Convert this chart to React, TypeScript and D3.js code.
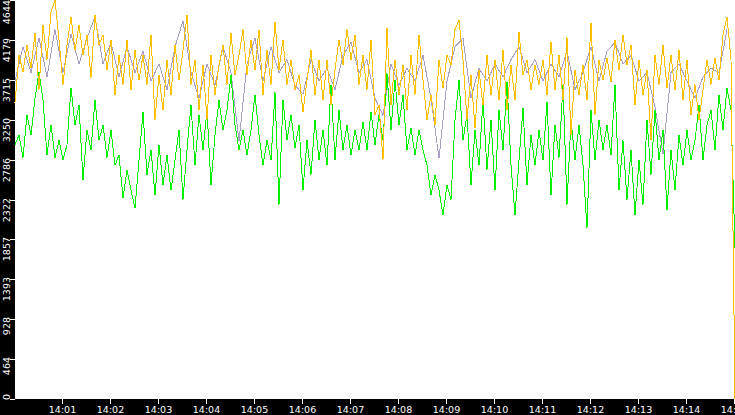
import React, { useEffect, useRef } from 'react';
import * as d3 from 'd3';

// samples every 5 s from 14:00:00
const STEP_SEC = 5;
const yellowValues = [
  3450, 4000, 3810, 4120, 3850, 4260, 3600, 4350, 3950, 4500, 4644, 4180, 3660, 4120, 4450, 4060,
  4350, 4000, 4240, 3740, 4470, 4120, 4240, 3830, 4180, 3540, 4000, 3660, 4180, 3600, 4060, 3710,
  4000, 3660, 4240, 3250, 3770, 3360, 3950, 3540, 4120, 3710, 4060, 4470, 3660, 3950, 3360, 3890,
  3250, 4000, 3540, 3890, 4120, 3660, 4260, 3770, 4000, 4300, 3770, 4180, 3830, 4300,
  3540, 4060, 3660, 4390, 3830, 4180, 3660, 3950, 3600, 3770, 3340, 3710, 4060, 3540, 3950, 3480,
  3950, 3420, 3830, 4180, 3890, 4300, 3950, 4240, 3660, 4000, 3600, 4180, 3310, 3420, 2780, 4320,
  3420, 3950, 3540, 3890, 3360, 4000, 3540, 4240, 3710, 3250, 3540, 3190, 3950, 3620, 4000, 3890,
  4300, 4410, 3950, 3250, 3770, 3150, 3830, 3420, 4000, 3540, 3950, 3480,
  4060, 3360, 3890, 3480, 4270, 3770, 3950, 3600, 3890, 3660, 3950, 3540, 4160, 3600, 4000, 3480,
  4210, 3070, 3830, 3540, 3890, 3480, 4380, 3310, 3950, 3710, 3970, 3690, 4180, 3830, 4240, 3890,
  4120, 3420, 3950, 3540, 3830, 3010, 4000, 3660, 4120, 3620, 4000, 3600, 4060, 3480, 3950, 3310,
  3660, 3250, 3600, 3950, 3660, 3970, 3710, 4240, 4450, 3950, 0,
];
const greenValues = [
  2960, 3070, 2810, 3310, 3070, 3500, 3810, 3480, 2840, 3190, 2810, 3010, 2780, 2960, 3620, 3190,
  3420, 2550, 3130, 2900, 3480, 3010, 3190, 2810, 3130, 2720, 2840, 2340, 2670, 2430, 2220, 2780,
  3340, 2610, 2900, 2370, 2960, 2490, 2840, 2430, 2780, 3130, 2320, 2900, 3420, 2720, 3310, 2900,
  3360, 2490, 3070, 3480, 3130, 3360, 3770, 3190, 2900, 3130, 2840, 3130, 3540, 3070,
  2720, 3010, 2780, 3570, 2260, 3480, 3010, 3310, 2920, 3190, 2430, 3010, 2610, 3250, 2780, 3130,
  2720, 3660, 2780, 3360, 2900, 3190, 2840, 3130, 2900, 3220, 2900, 3340, 2960, 3310, 3010, 3790,
  3130, 3710, 3190, 3540, 2900, 3150, 2840, 3130, 2900, 2720, 2370, 2610, 2430, 2140, 2490, 2320,
  3250, 3710, 3010, 3310, 2490, 3130, 2720, 3480, 2670, 3250, 2430, 3360,
  2900, 3690, 2720, 2140, 2780, 3390, 2490, 3070, 2720, 3130, 2780, 3460, 2370, 3190, 2810, 3660,
  2260, 3250, 2780, 3190, 2720, 1990, 3360, 2780, 3250, 2900, 3190, 2840, 3660, 2430, 3010, 2320,
  2900, 2140, 2780, 2260, 3250, 2610, 3360, 2780, 3130, 2200, 2900, 2430, 3070, 2720, 3130, 2780,
  3010, 3420, 2780, 3190, 3360, 2900, 3540, 3130, 3620, 3360, 1760,
];
// samples every 10 s, mostly hidden behind the other two
const GRAY_STEP_SEC = 10;
const grayValues = [
  3700, 4100, 3800, 4200, 3750, 4300, 3800, 4250, 3900, 4200, 4450, 3900, 4150, 3750, 4100, 3800,
  4050, 3700, 3900, 3600, 4100, 4400, 3800, 3500, 3900, 3650, 4100, 3800, 3000, 3900, 4200, 3700,
  4100, 3800, 3950, 3650, 3550, 3950, 3700, 3850, 3600, 4000, 4150, 3800, 3950, 3500, 3300, 3900,
  3650, 3850, 3700, 4000, 3500, 2800, 3700, 4100, 4200, 3500, 3850, 3700, 3900, 3750, 3950, 4100,
  3800, 3950, 3700, 3900, 3750, 4050, 3600, 3800, 4100, 3700, 4050, 4150, 3900, 4000, 3700, 3800,
  3400, 2850, 3800, 3900, 3700, 3500, 3750, 3850, 3800, 4300,
];
const minuteTicks = d3.range(1, 16);
const Y_MAX = 4644;

const W = 735;
const H = 415;

const App: React.FC = () => {
  const svgRef = useRef<SVGSVGElement>(null);

  useEffect(() => {
    if (!svgRef.current) return;
    const svg = d3.select(svgRef.current);
    svg.selectAll('*').remove();

    const left = 15;
    const bottom = 399;
    const t0 = new Date(2024, 0, 1, 14, 0, 0);
    const t1 = new Date(2024, 0, 1, 14, 15, 0);

    const x = d3.scaleTime().domain([t0, t1]).range([left, W]);
    const y = d3.scaleLinear().domain([0, Y_MAX]).range([bottom, 0]);

    svg.append('rect').attr('width', W).attr('height', H).attr('fill', '#000');
    svg.append('rect')
      .attr('x', left).attr('y', 0)
      .attr('width', W - left).attr('height', bottom)
      .attr('fill', '#fff');

    const toPoints = (vals: number[], step: number) =>
      vals.map((v, i) => ({ t: new Date(t0.getTime() + i * step * 1000), v }));

    const line = d3.line<{ t: Date; v: number }>()
      .x(d => x(d.t))
      .y(d => y(d.v));

    const plot = svg.append('g');
    const series: [number[], number, string][] = [
      [grayValues, GRAY_STEP_SEC, '#aa9fc2'],
      [greenValues, STEP_SEC, '#00f000'],
      [yellowValues, STEP_SEC, '#ffc000'],
    ];
    series.forEach(([vals, step, color]) => {
      plot.append('path')
        .attr('d', line(toPoints(vals, step)))
        .attr('fill', 'none')
        .attr('stroke', color)
        .attr('stroke-width', 1)
        .attr('shape-rendering', 'crispEdges');
    });

    // y axis, vertical labels
    const yTicks = d3.range(0, 11).map(i => (Y_MAX * i) / 10);
    const ya = svg.append('g');
    yTicks.forEach((v, i) => {
      const ty = Math.round(y(v));
      ya.append('line')
        .attr('x1', 10).attr('x2', left)
        .attr('y1', ty + 0.5).attr('y2', ty + 0.5)
        .attr('stroke', '#fff');
      const ly = i === 0 ? 400 : Math.max(ty - 2, 0);
      ya.append('text')
        .attr('transform', `translate(10,${ly}) rotate(-90)`)
        .attr('text-anchor', i === 0 ? 'start' : 'end')
        .attr('fill', '#fff')
        .style('font-family', 'DejaVu Sans, sans-serif')
        .style('font-size', '9.5px')
        .text(Math.floor(v + 1e-6).toString());
    });

    // x axis
    const xa = svg.append('g');
    minuteTicks.forEach(m => {
      const tt = new Date(t0.getTime() + m * 60000);
      const tx = Math.round(x(tt)) - 0.5;
      xa.append('line')
        .attr('x1', tx).attr('x2', tx)
        .attr('y1', bottom).attr('y2', bottom + 5)
        .attr('stroke', '#fff');
      xa.append('text')
        .attr('x', tx)
        .attr('y', 413)
        .attr('text-anchor', 'middle')
        .attr('fill', '#fff')
        .style('font-family', 'DejaVu Sans, sans-serif')
        .style('font-size', '9.5px')
        .text(d3.timeFormat('%H:%M')(tt));
    });
  }, []);

  return (
    <svg
      ref={svgRef}
      width={W}
      height={H}
      style={{ position: 'absolute', left: 0, top: 0, display: 'block' }}
    />
  );
};

export default App;
